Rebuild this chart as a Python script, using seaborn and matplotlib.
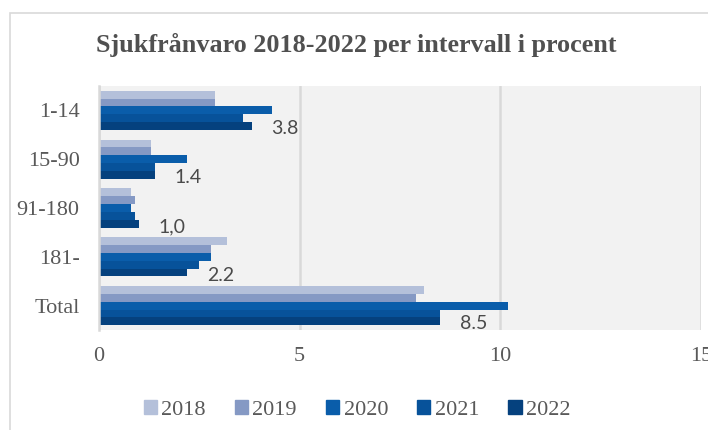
import pandas as pd
import matplotlib.pyplot as plt
import seaborn as sns
from matplotlib.patches import Rectangle

sns.set_style("white")
plt.rcParams['font.family'] = ['Liberation Serif', 'DejaVu Serif']

# data (percent)
categories = ["1-14", "15-90", "91-180", "181-", "Total"]
years = ["2018", "2019", "2020", "2021", "2022"]
v2018 = [2.9, 1.3, 0.8, 3.2, 8.1]
v2019 = [2.9, 1.3, 0.9, 2.8, 7.9]
v2020 = [4.3, 2.2, 0.8, 2.8, 10.2]
v2021 = [3.6, 1.4, 0.9, 2.5, 8.5]
v2022 = [3.8, 1.4, 1.0, 2.2, 8.5]
labels_2022 = ["3.8", "1.4", "1,0", "2.2", "8.5"]

colors = ["#B4C0DA", "#8599C4", "#0A5DAA", "#07529A", "#05417E"]

rows = []
for yr, vals in zip(years, [v2018, v2019, v2020, v2021, v2022]):
    for cat, v in zip(categories, vals):
        rows.append({"Intervall": cat, "År": yr, "Procent": v})
df = pd.DataFrame(rows)

fig = plt.figure(figsize=(7.08, 4.30), dpi=100)
ax = fig.add_axes([99 / 708, 1 - 330 / 430, (701 - 99) / 708, (330 - 86) / 430])

sns.barplot(data=df, y="Intervall", x="Procent", hue="År", orient="h",
            order=categories, hue_order=years, palette=colors,
            width=0.8, gap=0, saturation=1, linewidth=0, legend=False, ax=ax)

ax.set_facecolor("#F2F2F2")
ax.set_xlim(0, 15)
ax.set_xticks([0, 5, 10, 15])
ax.set_xlabel("")
ax.set_ylabel("")
ax.grid(axis="x", color="#D9D9D9", linewidth=1.8)
ax.set_axisbelow(True)
for s in ["top", "right", "bottom"]:
    ax.spines[s].set_visible(False)
ax.spines["left"].set_color("#D9D9D9")
ax.spines["left"].set_linewidth(1.8)
ax.tick_params(axis="x", length=0, pad=12, labelsize=16, labelcolor="#595959")
ax.tick_params(axis="y", length=0, pad=14, labelsize=16, labelcolor="#595959")

# value labels for 2022 only
for bar, txt in zip(ax.containers[4], labels_2022):
    ax.annotate(txt, (bar.get_width(), bar.get_y() + bar.get_height() / 2),
                xytext=(14, -2), textcoords="offset points", ha="left", va="center",
                fontsize=14, color="#4A4A4A", family=["Lato", "DejaVu Sans"])

# title
fig.text(356 / 708, 1 - 45 / 430, "Sjukfrånvaro 2018-2022 per intervall i procent",
         ha="center", va="center", fontsize=18.8, fontweight="bold", color="#505050")

# legend
handles = [Rectangle((0, 0), 1, 1, color=c) for c in colors]
fig.legend(handles, years, loc="center", bbox_to_anchor=(357 / 708, 1 - 410 / 430),
           ncol=5, frameon=False, handlelength=0.6, handleheight=0.6,
           handletextpad=0.2, columnspacing=1.3, labelcolor="#595959",
           prop={"family": ["Liberation Serif", "DejaVu Serif"], "size": 16})

# chart frame
fig.patches.append(Rectangle((10 / 708, -0.1), 1.2, 1 - 13 / 430 + 0.1,
                             transform=fig.transFigure, fill=False,
                             edgecolor="#D9D9D9", linewidth=1.2))

fig.savefig("out.png", dpi=100)
